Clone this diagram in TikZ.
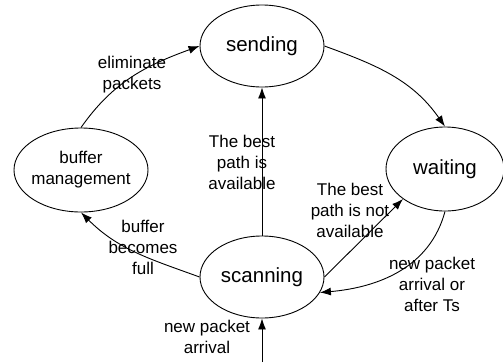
\documentclass[tikz,border=0pt]{standalone}
\usepackage{fontspec}
\setmainfont{Liberation Sans}
\usepackage{tikz}
\usetikzlibrary{arrows.meta, positioning, shapes.geometric}

\begin{document}
\begin{tikzpicture}[
  x=1pt, y=1pt,
  >={Latex[length=11pt, width=8pt]},
  every node/.style={align=center},
  state/.style={
    ellipse, draw, line width=0.9pt, inner sep=-3pt,
    minimum width=124pt, minimum height=82pt,
    font=\fontsize{20.5}{24}\selectfont
  },
  edgelabel/.style={font=\fontsize{17}{21}\selectfont, inner sep=0pt},
  trans/.style={->, line width=0.9pt}
]
\useasboundingbox (0,0) rectangle (503,-362);

\node[state] (send) at (262, -46)  {sending};
\node[state, minimum width=134pt, minimum height=84pt,
      font=\fontsize{17}{21}\selectfont] (buf) at (81, -170) {buffer\\management};
\node[state, minimum width=118pt, minimum height=84pt] (wait) at (445, -169) {waiting};
\node[state] (scan) at (262, -277) {scanning};
\coordinate (in) at (262, -362);

% transitions
\draw[trans] (buf.north) to[out=55, in=200] (send.west);
\draw[trans] (send.east) to[out=-20, in=125] (wait.north);
\draw[trans] (scan.west) to[out=160, in=-45] (buf.south);
\draw[trans] (scan.east) -- (wait.south west);
\draw[trans] (wait.south) to[out=-105, in=5] (scan.-15);
\draw[trans] (scan.north) -- (send.south);
\draw[trans] (in) -- (scan.south);

% labels
\node[edgelabel] (l1) at (132, -75)  {eliminate\\packets};
\node[edgelabel] (l2) at (143, -247) {buffer\\becomes\\full};
\node[edgelabel] (l3) at (242, -162) {The best\\path is\\available};
\node[edgelabel] (l4) at (350, -210) {The best\\path is not\\available};
\node[edgelabel] (l5) at (432, -284) {new packet\\arrival or\\after Ts};
\node[edgelabel] (l6) at (207, -337) {new packet\\arrival};
\end{tikzpicture}
\end{document}
